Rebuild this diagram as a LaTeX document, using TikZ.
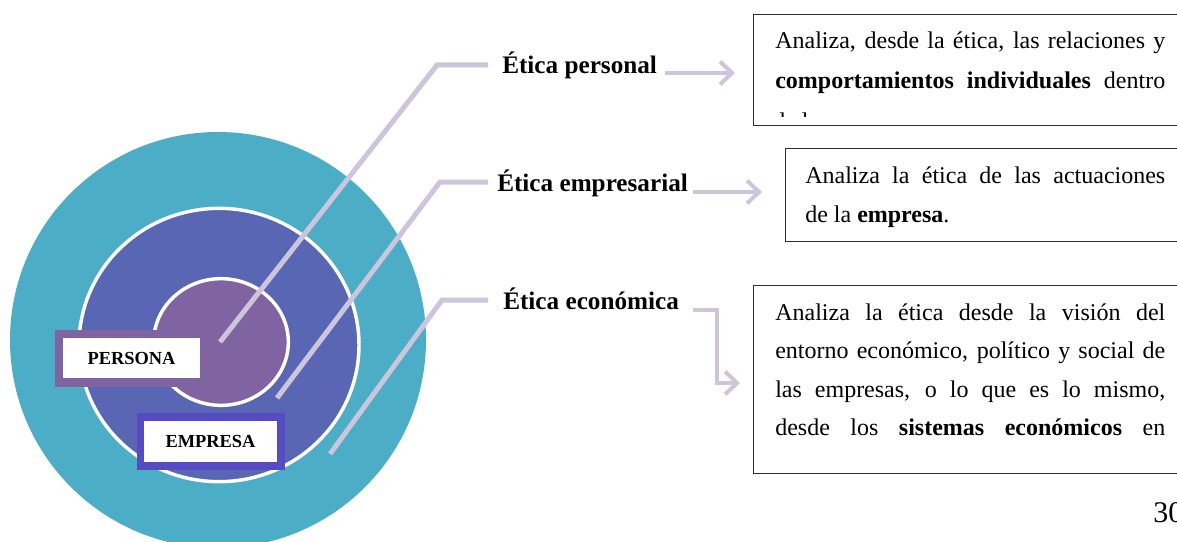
\documentclass[tikz,border=0pt]{standalone}
\usepackage{fontspec}
\setmainfont{Liberation Serif}
\usetikzlibrary{arrows.meta,shapes.geometric}
\definecolor{outerc}{HTML}{4BADC6}
\definecolor{midc}{HTML}{5866B3}
\definecolor{innerc}{HTML}{8064A2}
\definecolor{empc}{HTML}{574BC1}
\definecolor{linec}{HTML}{CDC5DC}
\definecolor{boxc}{HTML}{303030}
\newcommand{\jl}[2]{\hbox to #1{\spaceskip=0.25em plus 1fil\relax #2}}
\begin{document}
\begin{tikzpicture}[x=0.75pt,y=-0.75pt,
  conn/.style={linec, line width=3.75pt},
  arr/.style={linec, line width=3pt, -{Straight Barb[length=9pt,width=17pt]}},
  bodytxt/.style={anchor=base west, inner sep=0, font=\fontsize{18}{18}\selectfont},
  labtxt/.style={anchor=base west, inner sep=0, font=\fontsize{18.9}{20}\selectfont\bfseries},
  infobox/.style={draw=boxc, line width=1.1pt, anchor=north west, inner sep=0},
  tagtxt/.style={fill=white, inner sep=0, font=\fontsize{13.8}{14}\selectfont\bfseries}]
\useasboundingbox (0,0) rectangle (1177,542);
\fill[white] (0,0) rectangle (1177,542);
% circles
\node[circle, fill=outerc, inner sep=0, minimum size=312pt] (outer) at (218,340) {};
\node[ellipse, fill=midc, draw=white, line width=2.6pt, inner sep=0, minimum width=210pt, minimum height=205pt] (middle) at (219,345) {};
\node[ellipse, fill=innerc, draw=white, line width=2.6pt, inner sep=0, minimum width=101pt, minimum height=95pt] (inner) at (221,342) {};
% labels
\node[labtxt] (lab1) at (502,74) {Ética personal};
\node[labtxt] (lab2) at (497,191) {Ética empresarial};
\node[labtxt] (lab3) at (503,309) {Ética económica};
% connector points
\coordinate (s1) at (220,342);
\coordinate (k1) at (437,65);
\coordinate (e1) at (488,65);
\coordinate (s2) at (277,398);
\coordinate (k2) at (440,182);
\coordinate (e2) at (488,182);
\coordinate (s3) at (330,454);
\coordinate (k3) at (442,300);
\coordinate (e3) at (488,300);
\draw[conn] (s1) -- (k1) -- (e1);
\draw[conn] (s2) -- (k2) -- (e2);
\draw[conn] (s3) -- (k3) -- (e3);
% tags
\fill[innerc] (55,330) rectangle (200,387);
\node[tagtxt, minimum width=102.75pt, minimum height=30pt] (persona) at (131.5,358) {PERSONA};
\fill[empc] (137,413) rectangle (285,470);
\node[tagtxt, minimum width=99.75pt, minimum height=30.75pt] (empresa) at (210.5,441.5) {EMPRESA};
% boxes
\node[infobox, minimum width=345pt, minimum height=83.25pt] (box1) at (753,14) {};
\node[infobox, minimum width=322pt, minimum height=69.75pt] (box2) at (785,148) {};
\node[infobox, minimum width=345pt, minimum height=141pt] (box3) at (753,285) {};
% arrows
\coordinate (a1s) at (665,73);
\coordinate (a1e) at (735,73);
\coordinate (a2s) at (693,192);
\coordinate (a2e) at (762,192);
\coordinate (a3s) at (693,310);
\coordinate (a3e) at (740,383);
\draw[arr] (a1s) -- (a1e);
\draw[arr] (a2s) -- (a2e);
\draw[arr] (a3s) -- (717,310) -- (717,383) -- (a3e);
% box texts
\node[bodytxt] (t11) at (775,49) {\jl{292.5pt}{Analiza, desde la ética, las relaciones y}};
\node[bodytxt] (t12) at (775,89) {\jl{292.5pt}{\textbf{comportamientos individuales} dentro}};
\begin{scope}
\clip (753,14) rectangle (1177,116);
\node[bodytxt] (t13) at (773,129) {de la};
\end{scope}
\node[bodytxt] (t21) at (805,183) {\jl{270pt}{Analiza la ética de las actuaciones}};
\node[bodytxt] (t22) at (805,222) {de la \textbf{empresa}.};
\node[bodytxt] (t31) at (775,320) {\jl{292.5pt}{Analiza la ética desde la visión del}};
\node[bodytxt] (t32) at (775,358) {\jl{292.5pt}{entorno económico, político y social de}};
\node[bodytxt] (t33) at (775,397) {\jl{292.5pt}{las empresas, o lo que es lo mismo,}};
\node[bodytxt] (t34) at (775,435) {\jl{292.5pt}{desde los \textbf{sistemas económicos} en}};
\node[anchor=base west, inner sep=0, font=\fontsize{22.5}{22.5}\selectfont] (pg) at (1153,522) {30};
\end{tikzpicture}
\end{document}
